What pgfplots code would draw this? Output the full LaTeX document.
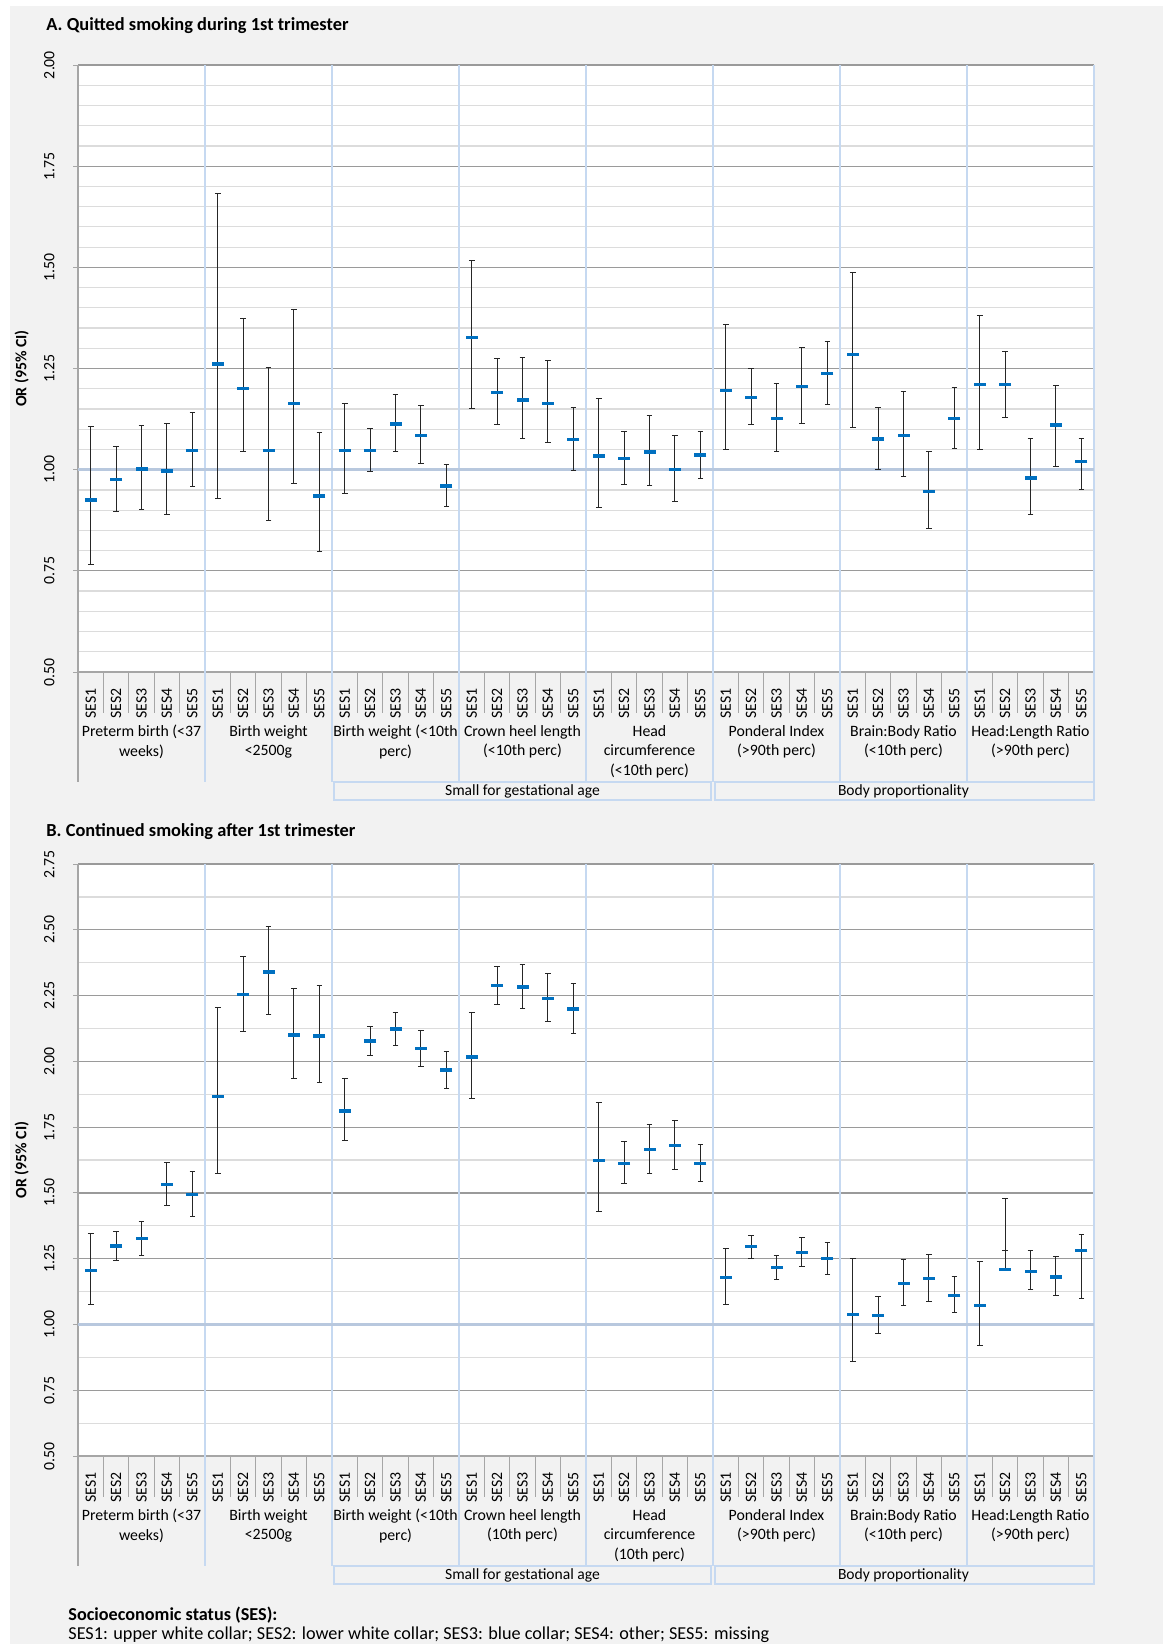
\documentclass[border=0pt]{standalone}
\usepackage{fontspec}
\setmainfont{Carlito}
\usepackage{pgfplots}
\usepackage{pgfplotstable}
\pgfplotsset{compat=1.18}
\definecolor{barblue}{HTML}{0070C0}
\definecolor{grpblue}{HTML}{C6D9F1}
\definecolor{majgrid}{HTML}{9A9A9A}
\definecolor{mingrid}{HTML}{DCDCDC}
\definecolor{bggray}{HTML}{F2F2F2}
\definecolor{oneline}{HTML}{B8C8DE}
\definecolor{sepgray}{HTML}{A6A6A6}

\pgfplotstableread{
x y lo hi
0 0.925 0.766 1.107
1 0.975 0.897 1.057
2 1.002 0.901 1.110
3 0.997 0.888 1.113
4 1.048 0.959 1.142
5 1.261 0.928 1.683
6 1.200 1.044 1.374
7 1.048 0.875 1.252
8 1.164 0.965 1.396
9 0.935 0.798 1.091
10 1.048 0.942 1.164
11 1.048 0.995 1.102
12 1.113 1.044 1.186
13 1.085 1.016 1.158
14 0.960 0.910 1.013
15 1.326 1.152 1.517
16 1.190 1.112 1.274
17 1.172 1.077 1.277
18 1.163 1.066 1.269
19 1.074 0.999 1.153
20 1.034 0.906 1.176
21 1.027 0.964 1.094
22 1.044 0.960 1.135
23 1.001 0.921 1.085
24 1.036 0.978 1.095
25 1.195 1.049 1.358
26 1.178 1.112 1.249
27 1.127 1.045 1.214
28 1.206 1.114 1.302
29 1.238 1.160 1.316
30 1.285 1.103 1.487
31 1.076 1.000 1.154
32 1.085 0.984 1.193
33 0.946 0.854 1.045
34 1.127 1.053 1.204
35 1.210 1.049 1.381
36 1.210 1.129 1.291
37 0.979 0.889 1.078
38 1.110 1.009 1.209
39 1.020 0.950 1.078
}\dataA

\pgfplotstableread{
x y lo hi
0 1.206 1.075 1.344
1 1.298 1.244 1.352
2 1.327 1.264 1.391
3 1.532 1.452 1.614
4 1.494 1.410 1.581
5 1.867 1.572 2.204
6 2.254 2.115 2.400
7 2.339 2.178 2.511
8 2.100 1.935 2.275
9 2.096 1.921 2.287
10 1.812 1.698 1.933
11 2.077 2.024 2.132
12 2.123 2.060 2.187
13 2.048 1.980 2.117
14 1.967 1.898 2.036
15 2.017 1.859 2.185
16 2.289 2.217 2.362
17 2.283 2.199 2.368
18 2.240 2.150 2.333
19 2.199 2.107 2.296
20 1.624 1.428 1.843
21 1.612 1.534 1.694
22 1.665 1.575 1.760
23 1.681 1.590 1.775
24 1.612 1.544 1.684
25 1.179 1.075 1.288
26 1.296 1.251 1.339
27 1.217 1.169 1.263
28 1.274 1.221 1.330
29 1.250 1.190 1.311
30 1.039 0.858 1.250
31 1.034 0.966 1.108
32 1.156 1.072 1.245
33 1.174 1.086 1.266
34 1.110 1.044 1.181
35 1.071 0.920 1.240
36 1.210 1.210 1.480
37 1.202 1.131 1.280
38 1.181 1.110 1.260
39 1.282 1.100 1.341
}\dataB

\newcommand{\fs}{\fontsize{7.9}{9.75}\selectfont}
\newcommand{\fb}{\fontsize{7.8}{8.5}\selectfont}
\newcommand{\ft}{\fontsize{9.2}{11}\selectfont}
\newcommand{\fn}{\fontsize{9.1}{11}\selectfont}

\pgfplotsset{
  panel/.style={
    scale only axis, width=508pt, xmin=-0.5, xmax=39.5,
    axis background/.style={fill=white},
    xtick={0,...,39},
    xticklabels={SES1,SES2,SES3,SES4,SES5,SES1,SES2,SES3,SES4,SES5,SES1,SES2,SES3,SES4,SES5,SES1,SES2,SES3,SES4,SES5,SES1,SES2,SES3,SES4,SES5,SES1,SES2,SES3,SES4,SES5,SES1,SES2,SES3,SES4,SES5,SES1,SES2,SES3,SES4,SES5},
    xticklabel style={rotate=90, anchor=east, font=\fs, inner sep=0pt},
    xticklabel shift=5.5pt,
    x tick style={draw=none},
    yticklabel style={rotate=90, anchor=south, font=\fs, inner sep=0pt,
      /pgf/number format/fixed, /pgf/number format/fixed zerofill,
      /pgf/number format/precision=2, /pgf/number format/assume math mode=true},
    yticklabel shift=9pt,
    tick align=outside, major tick length=2.5pt, minor tick length=0pt,
    y tick style={sepgray, line width=0.5pt},
    ymajorgrids, yminorgrids,
    major grid style={majgrid, line width=0.6pt},
    minor grid style={mingrid, line width=0.6pt},
    axis x line*=bottom, axis y line*=left,
    axis line style={sepgray, line width=0.6pt, -},
    clip=false,
  },
  ebars/.style={only marks, mark=-, mark size=3pt, mark options={draw=barblue, line width=1.7pt},
    error bars/.cd, y dir=both, y explicit,
    error bar style={black!85, line width=0.5pt},
    error mark options={rotate=90, black!85, mark size=1.4pt, line width=0.5pt}},
}

% #1 ymin, #2 ymax, #3 crown label, #4 head label
\newcommand{\tablebelow}[4]{%
  \pgfplotsinvokeforeach{0.5,1.5,...,38.5}{
    \draw[sepgray, line width=0.6pt] (axis cs:##1,#1) -- ([yshift=-20.5pt]axis cs:##1,#1);
  }
  \draw[sepgray, line width=0.6pt] (axis cs:-0.5,#1) -- ([yshift=-55pt]axis cs:-0.5,#1);
  \pgfplotsinvokeforeach{4.5,9.5,14.5,19.5,24.5,29.5,34.5,39.5}{
    \draw[grpblue, line width=0.7pt] (axis cs:##1,#2) -- ([yshift=-55pt]axis cs:##1,#1);
  }
  \draw[oneline, line width=1.2pt] (axis cs:-0.5,1) -- (axis cs:39.5,1);
  \node[anchor=north, align=center, font=\fs, inner sep=0pt] at ([yshift=-26.5pt]axis cs:2,#1) {Preterm birth (<37\\weeks)};
  \node[anchor=north, align=center, font=\fs, inner sep=0pt] at ([yshift=-26.5pt]axis cs:7,#1) {Birth weight\\<2500g};
  \node[anchor=north, align=center, font=\fs, inner sep=0pt] at ([yshift=-26.5pt]axis cs:12,#1) {Birth weight (<10th\\perc)};
  \node[anchor=north, align=center, font=\fs, inner sep=0pt] at ([yshift=-26.5pt]axis cs:17,#1) {#3};
  \node[anchor=north, align=center, font=\fs, inner sep=0pt] at ([yshift=-26.5pt]axis cs:22,#1) {#4};
  \node[anchor=north, align=center, font=\fs, inner sep=0pt] at ([yshift=-26.5pt]axis cs:27,#1) {Ponderal Index\\(>90th perc)};
  \node[anchor=north, align=center, font=\fs, inner sep=0pt] at ([yshift=-26.5pt]axis cs:32,#1) {Brain:Body Ratio\\(<10th perc)};
  \node[anchor=north, align=center, font=\fs, inner sep=0pt] at ([yshift=-26.5pt]axis cs:37,#1) {Head:Length Ratio\\(>90th perc)};
  \draw[grpblue, line width=1pt] ([shift={(0.8pt,-55pt)}]axis cs:9.5,#1) rectangle ([shift={(-1.2pt,-64pt)}]axis cs:24.5,#1);
  \draw[grpblue, line width=1pt] ([shift={(1.2pt,-55pt)}]axis cs:24.5,#1) rectangle ([shift={(-0.2pt,-64pt)}]axis cs:39.5,#1);
  \node[font=\fb, inner sep=0pt] at ([yshift=-59.5pt]axis cs:17,#1) {Small for gestational age};
  \node[font=\fb, inner sep=0pt] at ([yshift=-59.5pt]axis cs:32,#1) {Body proportionality};
}

\begin{document}
\begin{tikzpicture}
\useasboundingbox (0,0) rectangle (581.5pt,-822pt);
\fill[white] (0,0) rectangle (581.5pt,-822pt);
\fill[bggray] (5pt,-3pt) rectangle (581.5pt,-822pt);

\node[anchor=base west, font=\bfseries\ft, inner sep=0pt] at (23pt,-15pt) {A. Quitted smoking during 1st trimester};
\node[anchor=base west, font=\bfseries\ft, inner sep=0pt] at (23pt,-418pt) {B. Continued smoking after 1st trimester};
\node[rotate=90, font=\bfseries\fs, inner sep=0pt] at (10.85pt,-184.25pt) {OR (95\% CI)};
\node[rotate=90, font=\bfseries\fs, inner sep=0pt] at (10.85pt,-580pt) {OR (95\% CI)};

\begin{axis}[panel, at={(39pt,-32.5pt)}, anchor=north west, height=303.5pt,
  ymin=0.5, ymax=2.0, ytick={0.5,0.75,...,2.0}, minor y tick num=4]
  \tablebelow{0.5}{2.0}{Crown heel length\\(<10th perc)}{Head\\circumference\\(<10th perc)}
  \addplot[ebars]
    table[x=x, y=y, y error plus expr=\thisrow{hi}-\thisrow{y}, y error minus expr=\thisrow{y}-\thisrow{lo}] {\dataA};
\end{axis}

\begin{axis}[panel, at={(39pt,-432pt)}, anchor=north west, height=296pt,
  ymin=0.5, ymax=2.75, ytick={0.5,0.75,...,2.75}, minor y tick num=1]
  \tablebelow{0.5}{2.75}{Crown heel length\\(10th perc)}{Head\\circumference\\(10th perc)}
  \addplot[ebars]
    table[x=x, y=y, y error plus expr=\thisrow{hi}-\thisrow{y}, y error minus expr=\thisrow{y}-\thisrow{lo}] {\dataB};
  \addplot[only marks, mark=-, mark size=1.4pt, mark options={draw=black!85, line width=0.5pt}] coordinates {(36,1.28)};
\end{axis}

\node[anchor=base west, font=\bfseries\fn, inner sep=0pt] at (34pt,-810pt) {Socioeconomic status (SES):};
\node[anchor=base west, font=\fn, inner sep=0pt] at (34pt,-819.5pt) {SES1: upper white collar; SES2: lower white collar; SES3: blue collar; SES4: other; SES5: missing};
\end{tikzpicture}
\end{document}
